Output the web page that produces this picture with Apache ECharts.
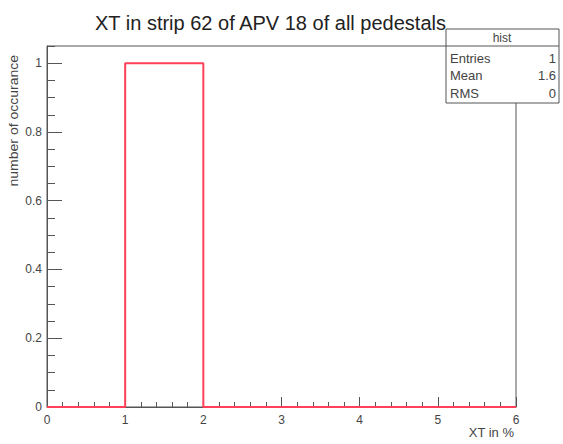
<!DOCTYPE html>
<html><head><meta charset="utf-8">
<script src="https://cdn.jsdelivr.net/npm/echarts@6/dist/echarts.min.js"></script>
<style>html,body{margin:0;padding:0;background:#fff}#c{width:563px;height:444px}</style>
</head><body><div id="c"></div>
<script>
const binEdges = [0, 1, 2, 3, 4, 5, 6];
const counts = [0, 1, 0, 0, 0, 0];
const xTickLabels = ['0', '1', '2', '3', '4', '5', '6'];
const yTickValues = [0, 0.2, 0.4, 0.6, 0.8, 1];
const yTickLabels = ['0', '0.2', '0.4', '0.6', '0.8', '1'];
const titleText = 'XT in strip 62 of APV 18 of all pedestals';
const xTitle = 'XT in %';
const yTitle = 'number of occurance';
const statsTitle = 'hist';
const statsNames = ['Entries', 'Mean', 'RMS'];
const statsValues = ['1', '1.6', '0'];

const FONT = 'Liberation Sans, Arial, sans-serif';
const AXC = '#555';
const TXT = '#444';

const stepData = counts.map((c, i) => [binEdges[i], c]);
stepData.push([binEdges[binEdges.length - 1], counts[counts.length - 1]]);

const chart = echarts.init(document.getElementById('c'), null, {renderer: 'svg'});

const graphic = [
  {type: 'rect', z: 100, shape: {x: 446, y: 29, width: 113, height: 74},
   style: {fill: '#fff', stroke: AXC, lineWidth: 1}},
  {type: 'line', z: 101, shape: {x1: 446, y1: 46, x2: 559, y2: 46},
   style: {stroke: AXC, lineWidth: 1}},
  {type: 'text', z: 101, x: 502, y: 38,
   style: {text: statsTitle, fill: TXT, font: '12px ' + FONT, align: 'center', verticalAlign: 'middle'}},
  {type: 'text', z: 100, x: 14, y: 55, rotation: Math.PI / 2, scaleY: 0.85,
   style: {text: yTitle, fill: TXT, font: '14px ' + FONT, align: 'right', verticalAlign: 'middle'}}
];
statsNames.forEach((n, i) => {
  const y = 58 + i * 17.5;
  graphic.push({type: 'text', z: 101, x: 450, y: y,
    style: {text: n, fill: TXT, font: '13px ' + FONT, align: 'left', verticalAlign: 'middle'}});
  graphic.push({type: 'text', z: 101, x: 556, y: y,
    style: {text: statsValues[i], fill: TXT, font: '13px ' + FONT, align: 'right', verticalAlign: 'middle'}});
});

chart.setOption({
  animation: false,
  backgroundColor: '#fff',
  title: {text: titleText, left: 90, top: 8,
    textStyle: {fontFamily: FONT, fontSize: 20, fontWeight: 'normal', color: '#222'}},
  grid: {left: 47, right: 47, top: 46, bottom: 37, show: true, borderColor: AXC, borderWidth: 1},
  xAxis: {
    type: 'value', min: 0, max: 6, interval: 1,
    name: xTitle, nameLocation: 'end', nameGap: -2,
    nameTextStyle: {fontFamily: FONT, fontSize: 13, color: TXT, align: 'right', verticalAlign: 'top', padding: [19, 0, 0, 0]},
    axisLine: {show: true, onZero: false, lineStyle: {color: AXC, width: 1}},
    axisTick: {show: true, inside: true, length: 10, lineStyle: {color: AXC}},
    minorTick: {show: true, splitNumber: 5, length: 5, lineStyle: {color: AXC}},
    splitLine: {show: false},
    axisLabel: {margin: 7, fontFamily: FONT, fontSize: 12, color: TXT,
      formatter: v => xTickLabels[binEdges.indexOf(Math.round(v))] || ''}
  },
  yAxis: [{
    type: 'value', min: 0, max: 1.05, interval: 0.2,
    axisLine: {show: true, lineStyle: {color: AXC, width: 1}},
    axisTick: {show: true, inside: true, length: 15, lineStyle: {color: AXC}},
    splitLine: {show: false},
    axisLabel: {margin: 5, fontFamily: FONT, fontSize: 12, color: TXT, showMaxLabel: false,
      formatter: v => {
        const k = yTickValues.findIndex(t => Math.abs(t - v) < 1e-6);
        return k >= 0 ? yTickLabels[k] : '';
      }}
  }, {
    type: 'value', min: 0, max: 1.05, interval: 0.05, position: 'left',
    axisLine: {show: false},
    axisTick: {show: true, inside: true, length: 8, lineStyle: {color: AXC}},
    splitLine: {show: false},
    axisLabel: {show: false}
  }],
  series: [{
    type: 'line', step: 'end', data: stepData, yAxisIndex: 0,
    symbol: 'none', clip: false, z: 5,
    lineStyle: {color: '#ff4058', width: 2}
  }],
  graphic: graphic
});
</script></body></html>
